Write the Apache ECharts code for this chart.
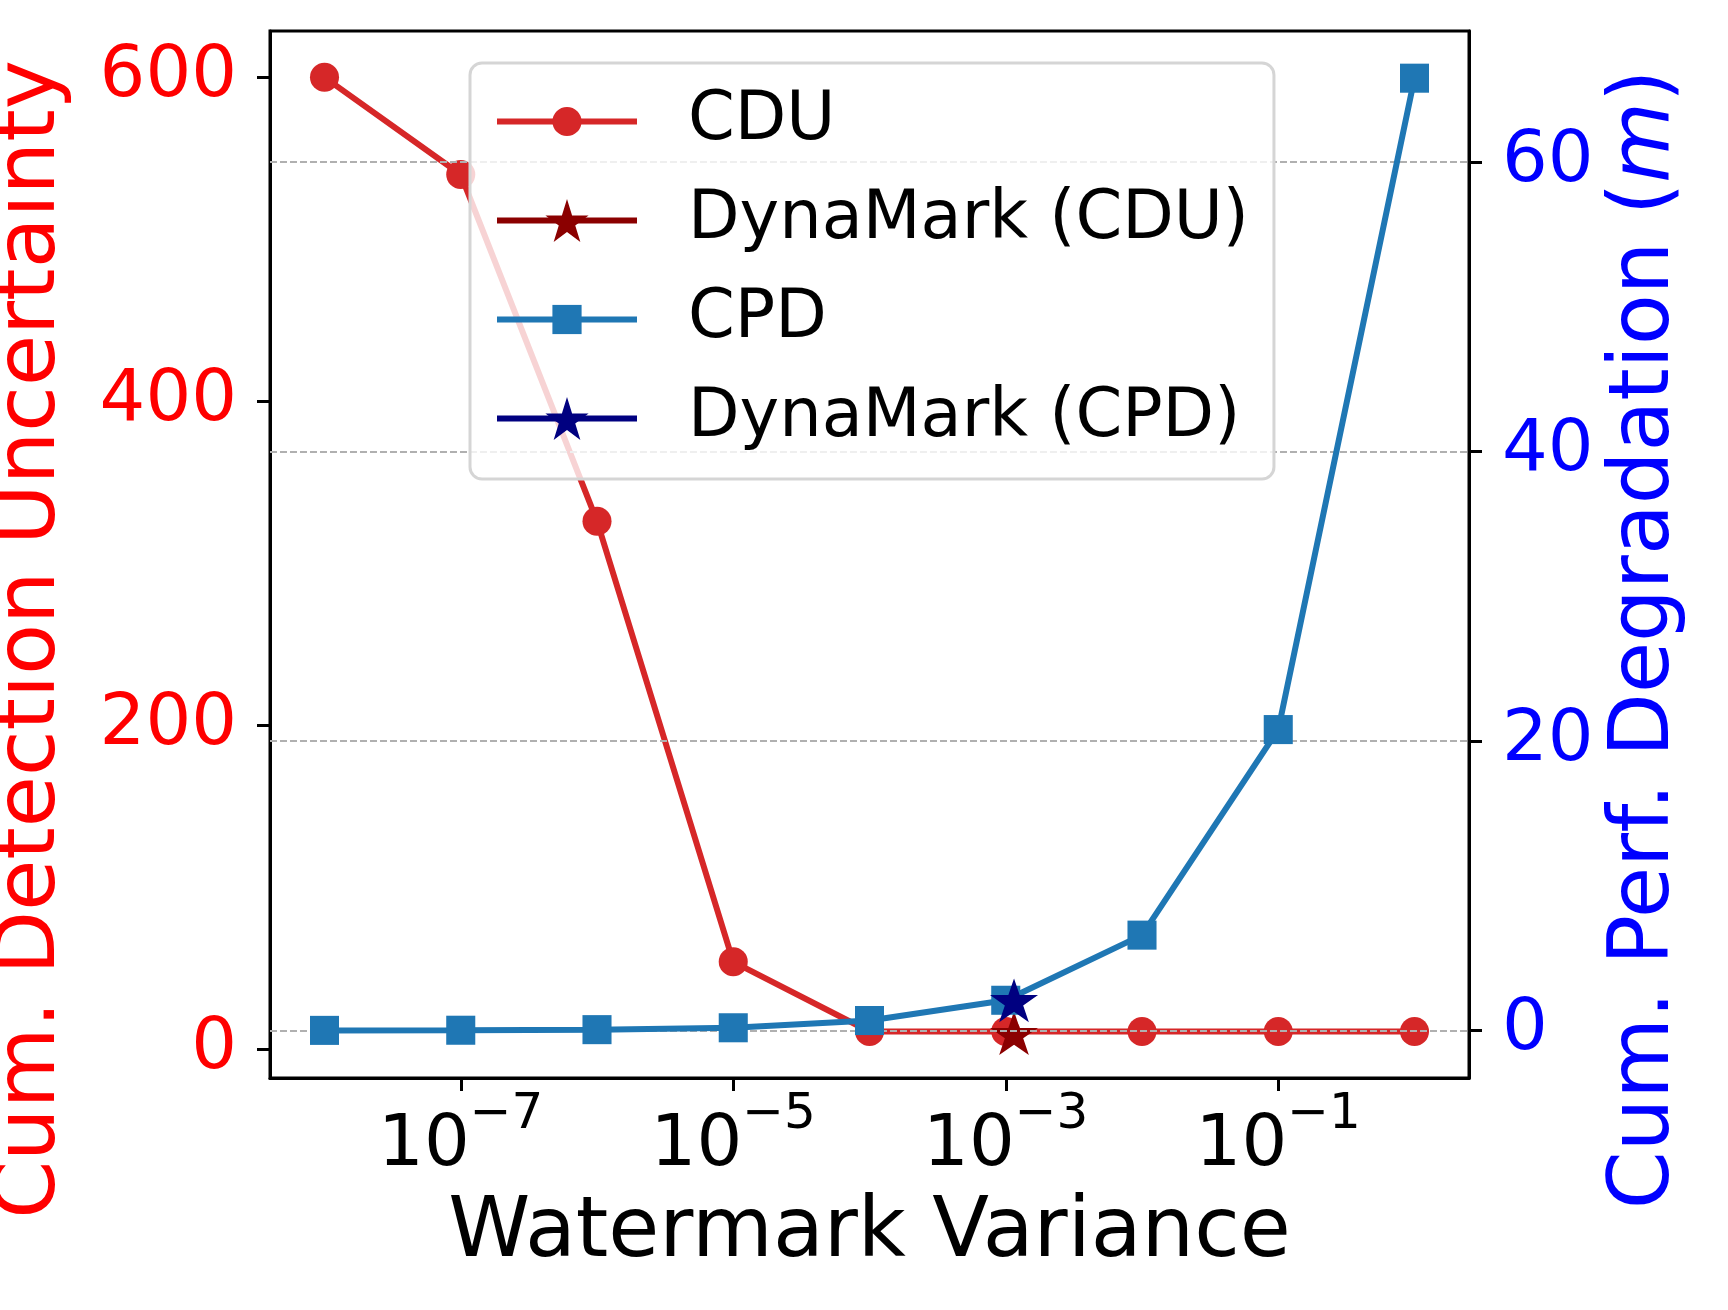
<!DOCTYPE html>
<html>
<head>
<meta charset="utf-8">
<script src="https://cdn.jsdelivr.net/npm/echarts@6/dist/echarts.min.js"></script>
<style>
  html, body { margin: 0; padding: 0; background: #fff; }
  #main { width: 1728px; height: 1310px; }
</style>
</head>
<body>
<div id="main"></div>
<script>
// watermark variance on x, two measures on twin y axes
var variance = [1e-8, 1e-7, 1e-6, 1e-5, 1e-4, 1e-3, 1e-2, 1e-1, 1];
var cdu = [600, 540, 326, 54, 11, 11, 11, 11, 11];
var cpd = [0.02, 0.03, 0.07, 0.2, 0.7, 2.1, 6.6, 20.8, 65.8];

// DynaMark operating point
var dynaVariance = [0.00115];
var dynaCdu = [10];
var dynaCpd = [2.1];

// tick labels
var xTickExp = [-7, -5, -3, -1];
var leftTicks = [0, 200, 400, 600];
var rightTicks = [0, 20, 40, 60];

var FONT = 'DejaVu Sans';
var STAR = 'path://M100 0 L122.45 69.1 L195.1 69.1 L136.3 111.8 L158.8 180.9 L100 138.2 L41.2 180.9 L63.7 111.8 L4.9 69.1 L77.55 69.1 Z';
// circle / square with an empty margin so the legend draws them smaller than the star
var DOT = 'path://M-24 -24 M124 124 M50 0 A50 50 0 1 1 50 100 A50 50 0 1 1 50 0 Z';
var BOX = 'path://M-24 -24 M124 124 M0 0 L100 0 L100 100 L0 100 Z';

function pairs(xs, ys) {
  var out = [];
  for (var i = 0; i < xs.length; i++) {
    out.push([Math.log10(xs[i]), ys[i]]);
  }
  return out;
}

var chart = echarts.init(document.getElementById('main'));

var option = {
  animation: false,
  backgroundColor: '#ffffff',
  grid: {
    left: 270, right: 259, top: 31, bottom: 232,
    show: true, borderColor: '#000', borderWidth: 3,
    containLabel: false, outerBoundsMode: 'none'
  },
  legend: {
    orient: 'vertical',
    left: 470, top: 63,
    z: 10,
    padding: [25, 25, 27, 24],
    itemWidth: 140, itemHeight: 54, itemGap: 32,
    backgroundColor: 'rgba(255,255,255,0.8)',
    borderColor: '#d5d5d5', borderWidth: 3, borderRadius: 12,
    lineStyle: { width: 6 },
    textStyle: { fontFamily: FONT, fontSize: 67, color: '#000', padding: [0, 0, 0, 46] },
    data: ['CDU', 'DynaMark (CDU)', 'CPD', 'DynaMark (CPD)']
  },
  xAxis: {
    type: 'value',
    min: -8.4, max: 0.4,
    name: 'Watermark Variance',
    nameLocation: 'middle',
    nameGap: 115,
    nameTextStyle: { fontFamily: FONT, fontSize: 83, color: '#000' },
    axisLine: { show: true, onZero: false, lineStyle: { color: '#000', width: 3 } },
    axisTick: { show: true, length: 13, lineStyle: { color: '#000', width: 3 }, customValues: xTickExp },
    splitLine: { show: false },
    axisLabel: {
      margin: 12,
      customValues: xTickExp,
      formatter: function (v) {
        return '{b|10}{s|\u2212' + Math.abs(v) + '}';
      },
      rich: {
        b: { fontFamily: FONT, fontSize: 72, color: '#000', lineHeight: 92, verticalAlign: 'bottom' },
        s: { fontFamily: FONT, fontSize: 50, color: '#000', lineHeight: 50, verticalAlign: 'top' }
      }
    }
  },
  yAxis: [{
    type: 'value',
    position: 'left',
    min: -17.7, max: 628.6,
    name: 'Cum. Detection Uncertainty',
    nameLocation: 'middle',
    nameRotate: 90,
    nameGap: 196,
    nameTextStyle: { fontFamily: FONT, fontSize: 83, color: '#ff0000', padding: [0, 170, 0, 0] },
    axisLine: { show: true, onZero: false, lineStyle: { color: '#000', width: 3 } },
    axisTick: { show: true, length: 13, lineStyle: { color: '#000', width: 3 }, customValues: leftTicks },
    splitLine: { show: false },
    axisLabel: { margin: 33, fontFamily: FONT, fontSize: 72, color: '#ff0000', customValues: leftTicks }
  }, {
    type: 'value',
    position: 'right',
    min: -3.27, max: 69.06,
    name: 'Cum. Perf. Degradation ({i|m})',
    nameLocation: 'middle',
    nameRotate: 90,
    nameGap: 135,
    nameTextStyle: {
      fontFamily: FONT, fontSize: 83, color: '#0000ff', padding: [0, 170, 0, 0],
      rich: { i: { fontFamily: FONT, fontSize: 83, fontStyle: 'italic', color: '#0000ff' } }
    },
    axisLine: { show: true, onZero: false, lineStyle: { color: '#000', width: 3 } },
    axisTick: { show: true, length: 13, lineStyle: { color: '#000', width: 3 }, customValues: rightTicks },
    splitLine: { show: false },
    axisLabel: { margin: 33, fontFamily: FONT, fontSize: 72, color: '#0000ff', customValues: rightTicks }
  }],
  series: [{
    name: 'CDU',
    type: 'line',
    yAxisIndex: 0,
    z: 2,
    data: pairs(variance, cdu),
    symbol: DOT, symbolSize: 43, symbolKeepAspect: true,
    color: '#d62728',
    lineStyle: { width: 6 },
    emphasis: { disabled: true }
  }, {
    name: 'DynaMark (CDU)',
    type: 'line',
    yAxisIndex: 0,
    z: 2,
    data: pairs(dynaVariance, dynaCdu),
    symbol: STAR, symbolSize: [48, 46], symbolKeepAspect: true,
    color: '#8b0000',
    lineStyle: { width: 6 },
    emphasis: { disabled: true }
  }, {
    name: 'CPD',
    type: 'line',
    yAxisIndex: 1,
    z: 4,
    data: pairs(variance, cpd),
    symbol: BOX, symbolSize: 43, symbolKeepAspect: true,
    color: '#1f77b4',
    lineStyle: { width: 6 },
    emphasis: { disabled: true },
    // dashed grid of the right axis, drawn above CDU but under CPD
    markLine: {
      silent: true,
      z: 3,
      symbol: 'none',
      label: { show: false },
      lineStyle: { color: '#b0b0b0', width: 2, type: [7, 3] },
      data: rightTicks.map(function (t) { return { yAxis: t }; })
    }
  }, {
    name: 'DynaMark (CPD)',
    type: 'line',
    yAxisIndex: 1,
    z: 5,
    data: pairs(dynaVariance, dynaCpd),
    symbol: STAR, symbolSize: [48, 46], symbolKeepAspect: true,
    color: '#000080',
    lineStyle: { width: 6 },
    emphasis: { disabled: true }
  }]
};

chart.setOption(option);
</script>
</body>
</html>
